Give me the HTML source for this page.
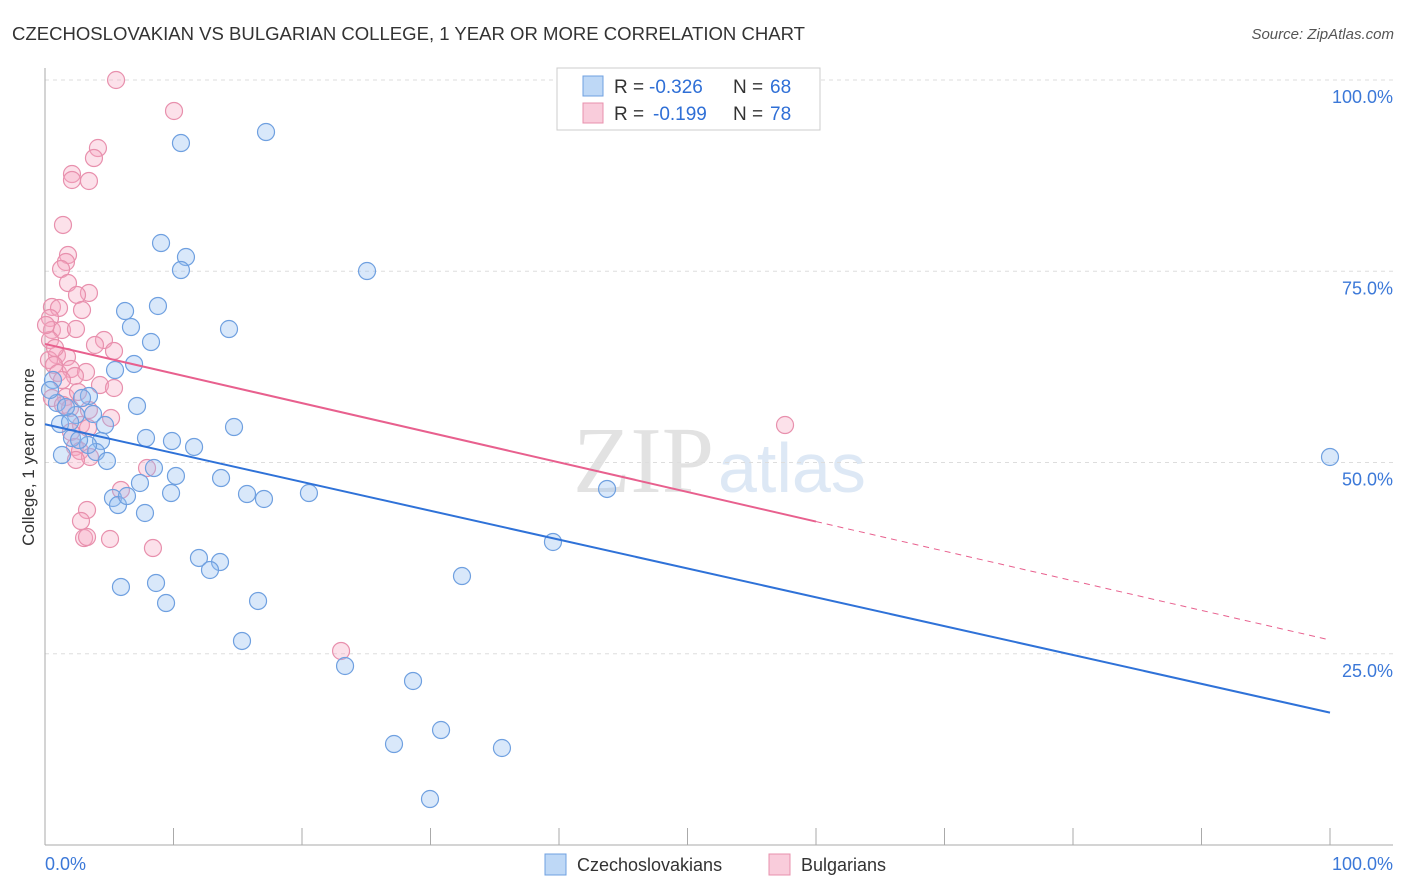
<!DOCTYPE html>
<html><head><meta charset="utf-8"><style>
body{margin:0;background:#fff;font-family:"Liberation Sans",sans-serif;}
svg{display:block}
</style></head><body>
<svg id="c" width="1406" height="892">
<text x="12" y="40" font-size="18" fill="#333" textLength="793" lengthAdjust="spacingAndGlyphs">CZECHOSLOVAKIAN VS BULGARIAN COLLEGE, 1 YEAR OR MORE CORRELATION CHART</text>
<text x="1394" y="39" font-size="15" fill="#555" font-style="italic" text-anchor="end">Source: ZipAtlas.com</text>
<text x="34" y="457" font-size="17" fill="#333" text-anchor="middle" transform="rotate(-90 34 457)">College, 1 year or more</text>
<text x="714" y="492" font-size="94" fill="#e2e2e2" text-anchor="end" font-family="Liberation Serif">ZIP</text>
<text x="718" y="492" font-size="70" fill="#dde8f5">atlas</text>
<g id="grid"></g><g id="marks"></g>
<g>
<rect x="557" y="68" width="263" height="62" fill="#fff" stroke="#ccc"/>
<rect x="583" y="76" width="20" height="20" fill="rgba(147,190,240,0.6)" stroke="#6fa0e0"/>
<rect x="583" y="103" width="20" height="20" fill="rgba(245,170,195,0.6)" stroke="#e890ad"/>
<text y="93" font-size="19" fill="#333"><tspan x="614">R =</tspan><tspan x="649" fill="#2f6fd6">-0.326</tspan><tspan x="733">N =</tspan><tspan x="770" fill="#2f6fd6">68</tspan></text>
<text y="120" font-size="19" fill="#333"><tspan x="614">R =</tspan><tspan x="653" fill="#2f6fd6">-0.199</tspan><tspan x="733">N =</tspan><tspan x="770" fill="#2f6fd6">78</tspan></text>
</g>
<g>
<rect x="545" y="854" width="21" height="21" fill="rgba(147,190,240,0.6)" stroke="#6fa0e0"/>
<text x="577" y="871" font-size="18" fill="#333">Czechoslovakians</text>
<rect x="769" y="854" width="21" height="21" fill="rgba(245,170,195,0.6)" stroke="#e890ad"/>
<text x="801" y="871" font-size="18" fill="#333">Bulgarians</text>
</g>
</svg>
<script>
const blueX=[[266,132],[181,143],[161,243],[186,257],[181,270],[367,271],[158,306],[125,311],[131,327],[229,329],[151,342],[134,364],[115,370],[53,380],[57,403],[137,406],[89,396],[76,415],[93,414],[60,424],[105,425],[146,438],[172,441],[194,447],[101,441],[96,452],[72,438],[62,455],[107,461],[154,468],[176,476],[234,427],[221,478],[140,483],[171,493],[247,494],[264,499],[309,493],[113,498],[118,505],[127,496],[145,513],[607,489],[553,542],[199,558],[220,562],[210,570],[462,576],[121,587],[156,583],[166,603],[258,601],[242,641],[345,666],[413,681],[441,730],[394,744],[502,748],[430,799],[1330,457],[70,422],[82,398],[50,390],[66,407],[88,445],[79,440]];
const pinkX=[[116,80],[174,111],[98,148],[94,158],[72,174],[72,180],[89,181],[63,225],[68,255],[66,262],[61,269],[68,283],[89,293],[77,295],[52,307],[59,308],[82,310],[50,318],[52,330],[62,330],[76,329],[104,340],[95,345],[114,351],[57,355],[67,357],[49,360],[54,365],[58,373],[71,369],[86,372],[75,376],[62,380],[100,385],[114,388],[66,397],[78,392],[52,398],[63,405],[70,408],[89,410],[111,418],[81,425],[88,428],[71,432],[75,447],[80,451],[90,457],[76,460],[147,468],[121,490],[785,425],[87,510],[81,521],[84,538],[87,537],[110,539],[153,548],[341,651],[50,340],[55,348],[46,325]];
const czechPts=blueX.map(p=>[+((p[0]-45)/12.85).toFixed(2),+((845-p[1])/7.65).toFixed(2)]);
const bulgPts=pinkX.map(p=>[+((p[0]-45)/12.85).toFixed(2),+((845-p[1])/7.65).toFixed(2)]);
const blueTrend=[55.0,17.3];
const pinkTrend=[65.5,26.8];
const yTicks=[100,75,50,25];
const xs=v=>45+v*12.85, ys=v=>845-v*7.65;
const NS="http://www.w3.org/2000/svg";
function mk(t,a,p){const e=document.createElementNS(NS,t);for(const k in a)e.setAttribute(k,a[k]);p.appendChild(e);return e;}
const g=document.getElementById('grid'),m=document.getElementById('marks');
yTicks.forEach(t=>{
 const l=mk('line',{x1:45,x2:1393,y1:ys(t),y2:ys(t),stroke:'#ddd','stroke-dasharray':'4,4'},g);
 
 
 const tx=mk('text',{x:1393,y:ys(t)+23,'font-size':18,fill:'#3b78d8','text-anchor':'end'},g);tx.textContent=t.toFixed(1)+'%';
 
 
});
mk('line',{x1:45,x2:45,y1:68,y2:845,stroke:'#aaa'},g);
mk('line',{x1:45,x2:1393,y1:845,y2:845,stroke:'#aaa'},g);
for(let i=1;i<=10;i++){mk('line',{x1:xs(i*10),x2:xs(i*10),y1:828,y2:845,stroke:'#aaa'},g);}
const x0=mk('text',{x:45,y:870,'font-size':18,fill:'#3b78d8'},g);x0.textContent='0.0%';


const x1=mk('text',{x:1393,y:870,'font-size':18,fill:'#3b78d8','text-anchor':'end'},g);x1.textContent='100.0%';


function dots(pts,fill,stroke,name){pts.forEach(p=>{const c=mk('circle',{cx:xs(p[0]),cy:ys(p[1]),r:8.5,fill:fill,stroke:stroke,'stroke-width':1.2},m);
 
 });}
dots(bulgPts,'rgba(245,170,195,0.35)','#e890ad','bulgarian-point');
dots(czechPts,'rgba(147,190,240,0.35)','#6fa0e0','czech-point');
const lb=mk('line',{x1:xs(0),y1:ys(blueTrend[0]),x2:xs(100),y2:ys(blueTrend[1]),stroke:'#2f72d8','stroke-width':2},m);


const pe=pinkTrend[0]+(pinkTrend[1]-pinkTrend[0])*0.6;
const lp=mk('line',{x1:xs(0),y1:ys(pinkTrend[0]),x2:xs(60),y2:ys(pe),stroke:'#e8608e','stroke-width':2},m);


const ld=mk('line',{x1:xs(60),y1:ys(pe),x2:xs(100),y2:ys(pinkTrend[1]),stroke:'#e8608e','stroke-width':1,'stroke-dasharray':'6,5'},m);


</script>
</body></html>
